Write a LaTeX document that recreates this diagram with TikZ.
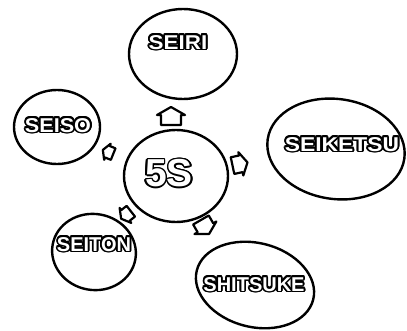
\documentclass[tikz,border=0pt]{standalone}
\usepackage{fontspec}
\setmainfont{Liberation Sans}
\usepackage{contour}
\usetikzlibrary{shapes.geometric}
\newcommand{\lbltext}[1]{\contourlength{1.7pt}\contour{black}{\textcolor{white}{#1}}}
\newcommand{\bigtext}[1]{\contourlength{1.3pt}\contour{black}{\textcolor{white}{#1}}}
\tikzset{
  bubble/.style={draw=black, line width=2.4pt, ellipse, inner sep=0pt},
  lbl/.style={font=\fontsize{20}{22}\selectfont\bfseries, inner sep=0pt},
  biglbl/.style={font=\fontsize{39}{40}\selectfont\bfseries, inner sep=0pt},
  arrowline/.style={draw=black, line width=2.2pt, line join=round, fill=white},
  house/.pic={\path[arrowline] (-10,-9) -- (10,-9) -- (10,1) -- (14,1) -- (0,9) -- (-14,1) -- (-10,1) -- cycle;}
}
\begin{document}
\begin{tikzpicture}[x=1pt,y=1pt]
\useasboundingbox (0,0) rectangle (407,330);
% bubbles
\node[bubble, minimum width=104pt, minimum height=92pt] (c5s) at (176,154) {};
\node[bubble, minimum width=108pt, minimum height=90pt] (seiri) at (183,276) {};
\node[bubble, minimum width=86pt, minimum height=74pt] (seiso) at (57,203) {};
\node[bubble, minimum width=138pt, minimum height=100pt, rotate=-8] (seiketsu) at (336,181) {};
\node[bubble, minimum width=84pt, minimum height=76pt, rotate=-10] (seiton) at (94,78) {};
\node[bubble, minimum width=120pt, minimum height=84pt, rotate=-14] (shitsuke) at (255,45) {};
% labels
\node[biglbl] (t5s) at (169,156) {\bigtext{5S}};
\node[lbl, xscale=1.12] (tseiri) at (178,287) {\lbltext{SEIRI}};
\node[lbl, xscale=1.08] (tseiso) at (58,204) {\lbltext{SEISO}};
\node[lbl, xscale=1.14] (tseiketsu) at (342,185) {\lbltext{SEIKETSU}};
\node[lbl] (tseiton) at (94,85) {\lbltext{SEITON}};
\node[lbl] (tshitsuke) at (254,45) {\lbltext{SHITSUKE}};
% arrows
\pic[rotate=0, scale=1.0] at (171,214) {house};
\pic[rotate=68, scale=0.62] at (108,178) {house};
\pic[rotate=-78, scale=0.85] at (240,166) {house};
\pic[rotate=128, scale=0.68] at (126,115) {house};
\pic[rotate=-150, scale=0.9] at (205,103) {house};
\end{tikzpicture}
\end{document}
